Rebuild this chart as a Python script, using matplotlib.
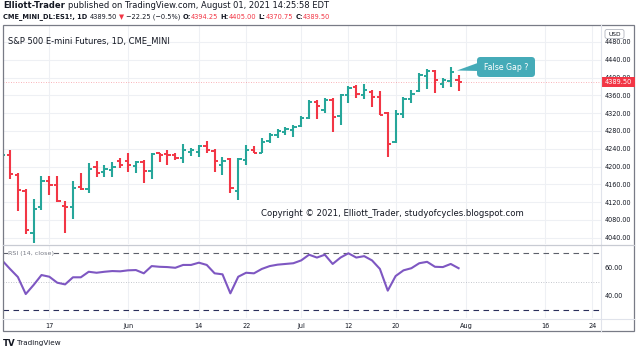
import numpy as np
import matplotlib
matplotlib.use("Agg")
import matplotlib.pyplot as plt
from matplotlib.patches import FancyBboxPatch, Polygon, Rectangle

# ---------------- data ----------------
dates = ["2021-05-07", "2021-05-10", "2021-05-11", "2021-05-12", "2021-05-13", "2021-05-14",
         "2021-05-17", "2021-05-18", "2021-05-19", "2021-05-20", "2021-05-21",
         "2021-05-24", "2021-05-25", "2021-05-26", "2021-05-27", "2021-05-28",
         "2021-06-01", "2021-06-02", "2021-06-03", "2021-06-04",
         "2021-06-07", "2021-06-08", "2021-06-09", "2021-06-10", "2021-06-11",
         "2021-06-14", "2021-06-15", "2021-06-16", "2021-06-17", "2021-06-18",
         "2021-06-21", "2021-06-22", "2021-06-23", "2021-06-24", "2021-06-25",
         "2021-06-28", "2021-06-29", "2021-06-30", "2021-07-01", "2021-07-02",
         "2021-07-06", "2021-07-07", "2021-07-08", "2021-07-09",
         "2021-07-12", "2021-07-13", "2021-07-14", "2021-07-15", "2021-07-16",
         "2021-07-19", "2021-07-20", "2021-07-21", "2021-07-22", "2021-07-23",
         "2021-07-26", "2021-07-27", "2021-07-28", "2021-07-29", "2021-07-30"]
opens = [4200, 4226, 4181, 4146, 4051, 4110,
         4168, 4158, 4111, 4108, 4153,
         4149, 4200, 4187, 4193, 4212,
         4212, 4201, 4209, 4190,
         4230, 4227, 4226, 4218, 4232,
         4233, 4246, 4235, 4203, 4216,
         4145, 4215, 4237, 4231, 4258,
         4271, 4278, 4282, 4291, 4308,
         4345, 4327, 4350, 4313,
         4361, 4379, 4361, 4368, 4357,
         4320, 4256, 4317, 4351, 4370,
         4404, 4415, 4385, 4392, 4394.25]
highs = [4230, 4237, 4185, 4150, 4126, 4179,
         4179, 4179, 4122, 4168, 4185,
         4207, 4212, 4204, 4211, 4218,
         4230, 4213, 4215, 4231,
         4231, 4237, 4230, 4250, 4241,
         4248, 4258, 4240, 4222, 4220,
         4220, 4248, 4246, 4265, 4276,
         4284, 4289, 4293, 4313, 4349,
         4350, 4355, 4353, 4364,
         4381, 4384, 4385, 4372, 4370,
         4322, 4327, 4356, 4373, 4409,
         4418, 4417, 4400, 4424, 4405.00]
lows = [4195, 4171, 4101, 4048, 4029, 4102,
        4136, 4121, 4051, 4081, 4147,
        4141, 4177, 4177, 4177, 4197,
        4188, 4185, 4164, 4173,
        4211, 4203, 4215, 4207, 4224,
        4222, 4230, 4188, 4181, 4140,
        4125, 4203, 4230, 4230, 4252,
        4263, 4271, 4267, 4288, 4306,
        4306, 4320, 4278, 4293,
        4342, 4355, 4352, 4334, 4315,
        4222, 4252, 4308, 4342, 4368,
        4374, 4365, 4377, 4379, 4370.75]
closes = [4226, 4183, 4148, 4057, 4105, 4168,
          4158, 4123, 4108, 4151, 4149,
          4194, 4185, 4194, 4198, 4203,
          4203, 4209, 4190, 4229,
          4226, 4225, 4218, 4237, 4238,
          4245, 4236, 4212, 4212, 4152,
          4216, 4237, 4231, 4256, 4271,
          4280, 4284, 4289, 4308, 4346,
          4336, 4349, 4312, 4360,
          4377, 4362, 4372, 4357, 4316,
          4250, 4318, 4352, 4364, 4405,
          4414, 4394, 4394, 4411.75, 4389.50]
rsi = [65.0, 59.0, 53.3, 41.3, 47.7, 54.7,
       53.5, 49.3, 48.1, 53.1, 53.1,
       57.0, 56.3, 57.0, 57.5, 57.3,
       58.0, 58.2, 55.9, 61.0,
       60.5, 60.3, 59.8, 61.8, 61.8,
       63.4, 61.8, 55.9, 55.2, 41.8,
       53.5, 56.3, 55.9, 59.0, 61.0,
       62.0, 62.5, 63.0, 65.0, 69.0,
       67.0, 69.0, 62.5, 67.0,
       70.0, 67.0, 68.0, 65.0, 59.0,
       43.7, 54.0, 58.0, 59.5, 63.0,
       64.0, 60.5, 60.3, 62.5, 59.5]

tick_dates = ["2021-05-17", "2021-06-01", "2021-06-14", "2021-06-22", "2021-07-01",
              "2021-07-12", "2021-07-20", "2021-08-02", "2021-08-16", "2021-08-24"]
tick_labels = ["17", "Jun", "14", "22", "Jul", "12", "20", "Aug", "16", "24"]
price_ticks = [4040, 4080, 4120, 4160, 4200, 4240, 4280, 4320, 4360, 4400, 4440, 4480]
rsi_ticks = [40, 60]
rsi_bands = [70, 50, 30]
last_price = 4389.50

header1 = [("Elliott-Trader", "bold"), ("published on TradingView.com, August 01, 2021 14:25:58 EDT", "normal")]
title_text = "S&P 500 E-mini Futures, 1D, CME_MINI"
copyright_text = "Copyright \u00a9 2021, Elliott_Trader, studyofcycles.blogspot.com"
callout_text = "False Gap ?"
rsi_label = "RSI (14, close)"

# ---------------- styles ----------------
UP, DOWN = "#26a69a", "#f23645"
RED = "#f23645"
TXT = "#131722"
GRID = "#eef0f4"
W, H = 640, 355

fig = plt.figure(figsize=(6.4, 3.55), dpi=100)
fig.patch.set_facecolor("white")

L, R = 3, 601
P_TOP, P_BOT = 25, 244
R_TOP, R_BOT = 245, 318

def fx(px):
    return px / W

ax = fig.add_axes([fx(L), 1 - P_BOT / H, fx(R - L), (P_BOT - P_TOP) / H])
axr = fig.add_axes([fx(L), 1 - R_BOT / H, fx(R - L), (R_BOT - R_TOP) / H], sharex=ax)

# x scale: bar index, ~7.87 px per bar
x0_px, step = 2.13, 7.87
ax.set_xlim((L - x0_px) / step, (R - x0_px) / step)

# price scale
ppx = 0.445  # px per point
y4440 = 59.7
ax.set_ylim(4440 - (P_BOT - y4440) / ppx, 4440 + (y4440 - P_TOP) / ppx)
# rsi scale
rpx = 1.42
y50 = 281.7
axr.set_ylim(50 - (R_BOT - y50) / rpx, 50 + (y50 - R_TOP) / rpx)

idx = {d: i for i, d in enumerate(dates)}
def xpos(d):
    if d in idx:
        return idx[d]
    return len(dates) - 1 + int(np.busday_count(dates[-1], d))
tpos = [xpos(d) for d in tick_dates]

for a in (ax, axr):
    for s in a.spines.values():
        s.set_visible(False)
    a.set_facecolor("white")
    a.set_xticks(tpos)
    a.grid(True, color=GRID, lw=0.8)
    a.set_axisbelow(True)
    a.yaxis.tick_right()
    a.tick_params(axis="both", length=0, labelsize=4.7, colors=TXT, pad=2.5)

ax.set_yticks(price_ticks)
ax.set_yticklabels([f"{v:.2f}" for v in price_ticks])
ax.tick_params(axis="x", labelbottom=False)
axr.set_yticks(rsi_ticks)
axr.set_yticklabels([f"{v:.2f}" for v in rsi_ticks])
axr.set_xticklabels(tick_labels)
axr.tick_params(axis="x", pad=3.5)
axr.grid(False, axis="y")

# OHLC bars
xs = np.arange(len(dates))
o, h, l, c = map(np.asarray, (opens, highs, lows, closes))
cols = [UP if cc >= oo else DOWN for oo, cc in zip(o, c)]
tk = 0.42
ax.vlines(xs, l, h, colors=cols, lw=1.5)
ax.hlines(o, xs - tk, xs, colors=cols, lw=1.4)
ax.hlines(c, xs, xs + tk, colors=cols, lw=1.4)
ax.axhline(last_price, color=RED, lw=0.6, ls=(0, (1, 2)), alpha=0.5)

# RSI
axr.axhline(rsi_bands[0], color="#5d606b", lw=0.8, ls=(0, (5, 4)))
axr.axhline(rsi_bands[1], color="#b2b5be", lw=0.6, ls=(0, (1, 2)))
axr.axhline(rsi_bands[2], color="#2a2e5a", lw=0.8, ls=(0, (5, 4)))
axr.plot(xs, rsi, color="#7e57c2", lw=1.5, solid_joinstyle="round")

# ---------------- overlay (pixel coords) ----------------
ov = fig.add_axes([0, 0, 1, 1])
ov.set_xlim(0, W)
ov.set_ylim(H, 0)
ov.axis("off")
rend = fig.canvas.get_renderer()

def measure(s, size, weight="normal"):
    t = ov.text(0, 0, s, fontsize=size, fontweight=weight)
    w = t.get_window_extent(rend).width
    t.remove()
    return w

def rich_line(x, y, parts, target_w=None, size=None):
    def lay(sz, draw):
        cx = x
        sp = sz * 0.318 * 100 / 72
        for txt, col, wt, gap in parts:
            t = ov.text(cx, y, txt, fontsize=sz, color=col, fontweight=wt, va="center", ha="left")
            w = t.get_window_extent(rend).width
            if not draw:
                t.remove()
            cx += w + (sp if gap else 0)
        return cx - x
    if size is None:
        size = 10 * target_w / lay(10, False)
    lay(size, True)
    return size

def fit_text(x, y, s, target_w, ha="left", weight="normal", **kw):
    sz = 10 * target_w / measure(s, 10, weight)
    return ov.text(x, y, s, fontsize=sz, ha=ha, va="center", fontweight=weight, **kw)

# frame lines
ov.add_patch(Rectangle((3, 25), 631, 306, fill=False, ec="#787b86", lw=0.9))
ov.plot([R, R], [25, 331], color="#e0e3eb", lw=0.8)
ov.plot([3, 634], [244.5, 244.5], color="#c8cbd3", lw=0.9)
ov.plot([3, 634], [318.5, 318.5], color="#e0e3eb", lw=0.8)

# header
rich_line(3, 6, [(header1[0][0], TXT, "bold", True), (header1[1][0], TXT, "normal", False)], target_w=324)
parts2 = [("CME_MINI_DL:ES1!, 1D", TXT, "bold", True),
          (f"{closes[-1]:.2f}", TXT, "normal", True),
          ("\u25bc", RED, "normal", True),
          ("\u221222.25 (\u22120.5%)", TXT, "normal", True),
          ("O:", TXT, "bold", False), (f"{opens[-1]:.2f}", RED, "normal", True),
          ("H:", TXT, "bold", False), (f"{highs[-1]:.2f}", RED, "normal", True),
          ("L:", TXT, "bold", False), (f"{lows[-1]:.2f}", RED, "normal", True),
          ("C:", TXT, "bold", False), (f"{closes[-1]:.2f}", RED, "normal", False)]
rich_line(3, 17, parts2, target_w=324)

# chart texts
fit_text(8, 41, title_text, 162, color=TXT)
fit_text(392, 213, copyright_text, 260, ha="center", color=TXT)
t = fit_text(8, 253, rsi_label, 46, color="#787b86")
t.set_bbox(dict(fc="white", ec="none", pad=0.3))

# callout
ov.add_patch(FancyBboxPatch((477, 57), 58, 20, boxstyle="round,pad=0,rounding_size=3.5",
                            fc="#45abb8", ec="none"))
ov.add_patch(Polygon([(479, 62.5), (479, 71), (457, 70.5)], closed=True, fc="#45abb8", ec="none"))
fit_text(506, 67, callout_text, 44, ha="center", color="white")

# last price label on scale
ypl = y4440 + (4440 - last_price) * ppx
ov.add_patch(Rectangle((R + 0.5, ypl - 5.2), 33, 10.4, fc=RED, ec="none"))
ov.text(R + 17, ypl, f"{last_price:.2f}", fontsize=4.8, color="white", ha="center", va="center")

# USD badge
ov.add_patch(FancyBboxPatch((605, 29.5), 19, 9, boxstyle="round,pad=0,rounding_size=2",
                            fc="white", ec="#b2b5be", lw=0.6))
ov.text(614.5, 34, "USD", fontsize=4.2, color=TXT, ha="center", va="center")

# TradingView logo
ov.text(3, 343.5, "TV", fontsize=6.2, fontweight="heavy", color=TXT, va="center", ha="left")
fit_text(17, 343.5, "TradingView", 44, color=TXT)

fig.savefig("out.png", dpi=100, facecolor="white")
